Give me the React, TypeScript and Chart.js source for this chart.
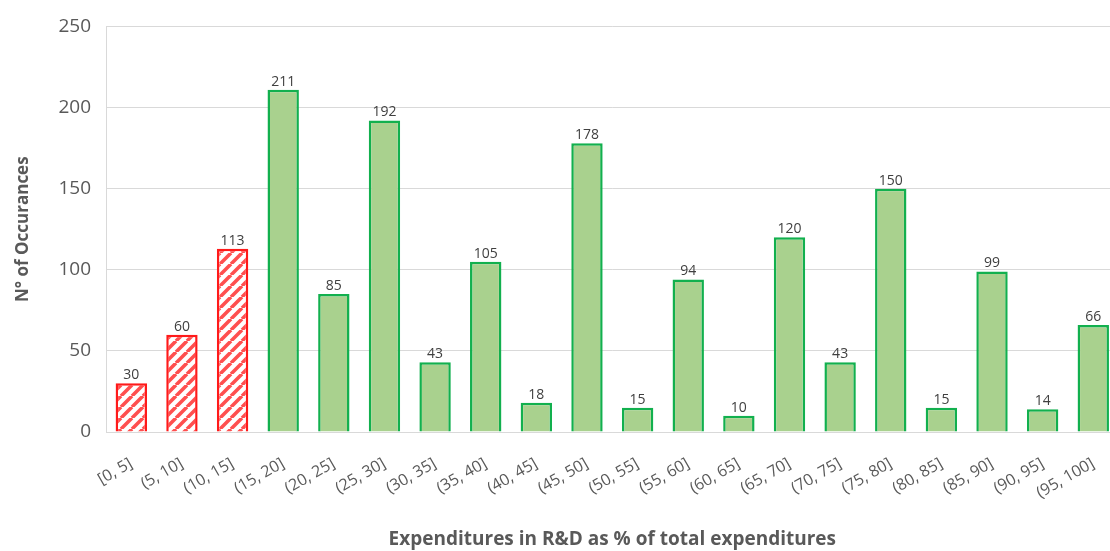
import React, { useEffect, useRef } from "react";
import { Chart, registerables } from "chart.js";

Chart.register(...registerables);

// Spending bands (share of R&D in total expenditures, %)
const categories: string[] = [
  "[0, 5]", "(5, 10]", "(10, 15]", "(15, 20]", "(20, 25]",
  "(25, 30]", "(30, 35]", "(35, 40]", "(40, 45]", "(45, 50]",
  "(50, 55]", "(55, 60]", "(60, 65]", "(65, 70]", "(70, 75]",
  "(75, 80]", "(80, 85]", "(85, 90]", "(90, 95]", "(95, 100]",
];

// Number of occurrences per band
const occurrences: number[] = [
  30, 60, 113, 211, 85, 192, 43, 105, 18, 178,
  15, 94, 10, 120, 43, 150, 15, 99, 14, 66,
];

// Bands below this index are highlighted with red hatching
const highlightedCount = 3;

const yTicks: number[] = [0, 50, 100, 150, 200, 250];

const FONT = "'Open Sans', 'Noto Sans', sans-serif";

function makeHatch(): CanvasPattern | string {
  const size = 11;
  const c = document.createElement("canvas");
  c.width = size;
  c.height = size;
  const ctx = c.getContext("2d");
  if (!ctx) return "#ffffff";
  ctx.fillStyle = "#ffffff";
  ctx.fillRect(0, 0, size, size);
  ctx.strokeStyle = "#ff4f4f";
  ctx.lineWidth = 3.6;
  ctx.beginPath();
  for (let k = -1; k <= 1; k++) {
    ctx.moveTo(k * size, size);
    ctx.lineTo(k * size + size, 0);
  }
  ctx.stroke();
  return ctx.createPattern(c, "repeat") || "#ffffff";
}

const valueLabels = {
  id: "valueLabels",
  afterDatasetsDraw(chart: any) {
    const ctx = chart.ctx;
    const meta = chart.getDatasetMeta(0);
    ctx.save();
    ctx.font = `14px ${FONT}`;
    ctx.fillStyle = "#404040";
    ctx.textAlign = "center";
    ctx.textBaseline = "bottom";
    meta.data.forEach((bar: any, i: number) => {
      ctx.fillText(String(occurrences[i]), bar.x, bar.y - 1);
    });
    ctx.restore();
  },
};

export default function App() {
  const ref = useRef<HTMLCanvasElement | null>(null);

  useEffect(() => {
    if (!ref.current) return;
    const hatch = makeHatch();
    const fills = occurrences.map((_, i) => (i < highlightedCount ? hatch : "#a9d18e"));
    const borders = occurrences.map((_, i) => (i < highlightedCount ? "#ff1a1a" : "#12b04e"));

    const chart = new Chart(ref.current, {
      type: "bar",
      data: {
        labels: categories,
        datasets: [
          {
            data: occurrences,
            backgroundColor: fills as any,
            borderColor: borders,
            borderWidth: 2.5,
            barPercentage: 0.62,
            categoryPercentage: 1,
          },
        ],
      },
      options: {
        responsive: false,
        animation: false,
        layout: { padding: { top: 21, right: 5, bottom: 0, left: 0 } },
        plugins: {
          legend: { display: false },
          tooltip: { enabled: false },
        },
        scales: {
          x: {
            grid: { display: false, drawTicks: false },
            border: { display: true, color: "#d9d9d9", width: 1 },
            ticks: {
              color: "#595959",
              font: { family: FONT, size: 16 },
              maxRotation: 30,
              minRotation: 30,
              padding: 22,
            },
            title: {
              display: true,
              text: "Expenditures in R&D as % of total expenditures",
              color: "#595959",
              font: { family: FONT, size: 19, weight: "bold" },
              padding: { top: 0, bottom: 0 },
            },
            afterFit: (scale: any) => {
              scale.height = 119;
            },
          },
          y: {
            min: 0,
            max: 250,
            afterBuildTicks: (scale: any) => {
              scale.ticks = yTicks.map((v) => ({ value: v }));
            },
            grid: { color: "#d9d9d9", lineWidth: 1, drawTicks: false },
            border: { display: true, color: "#d9d9d9", width: 1 },
            ticks: {
              color: "#595959",
              font: { family: FONT, size: 19 },
              padding: 15,
            },
            title: {
              display: true,
              text: "N° of Occurances",
              color: "#595959",
              font: { family: FONT, size: 17, weight: "bold" },
              padding: { top: 13, bottom: 0 },
            },
            afterFit: (scale: any) => {
              scale.width = 106;
            },
          },
        },
      },
      plugins: [valueLabels],
    });

    return () => chart.destroy();
  }, []);

  return (
    <div
      style={{
        position: "fixed",
        left: 0,
        top: 0,
        width: 1110,
        height: 551,
        overflow: "hidden",
        background: "#ffffff",
      }}
    >
      <canvas ref={ref} width={1125} height={551} style={{ display: "block" }} />
    </div>
  );
}
